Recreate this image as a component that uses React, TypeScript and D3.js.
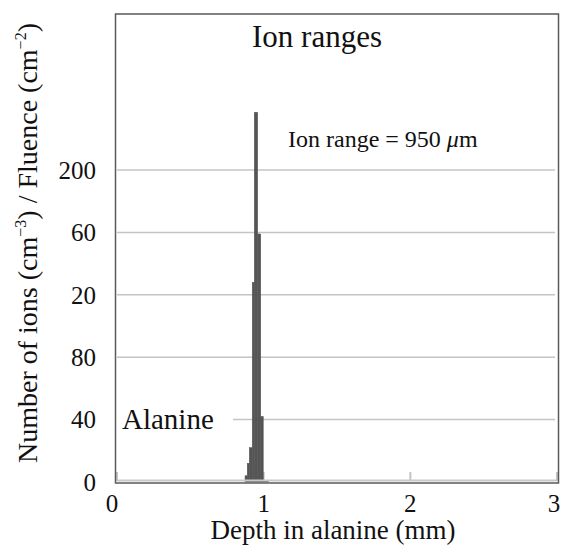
import React from 'react';
import * as d3 from 'd3';

// histogram bins (depth in mm, counts)
const binEdges = [0.873, 0.888, 0.902, 0.922, 0.936, 0.959, 0.98, 0.997, 1.032];
const ionCounts = [4, 12, 22, 128, 237, 159, 42, 1];

const xTicks = [0, 1, 2, 3];
const yTicks = [0, 40, 80, 120, 160, 200];
const yTickLabels = ['0', '40', '80', '20', '60', '200'];

const width = 561;
const height = 546;
const plot = { left: 116, right: 558, top: 14, bottom: 482 };
const font = 'Liberation Serif, DejaVu Serif, serif';

const App = () => {
  const xScale = d3.scaleLinear().domain([0, 3]).range([117, 557]);
  const yScale = d3.scaleLinear().domain([0, 300]).range([plot.bottom, plot.top]);

  const bins = ionCounts.map((c, i) => ({ x0: binEdges[i], x1: binEdges[i + 1], count: c }));

  return (
    <svg
      width={width}
      height={height}
      fontFamily={font}
      style={{ position: 'absolute', top: 0, left: 0, display: 'block' }}
    >
      <rect x={0} y={0} width={width} height={height} fill="#fff" />

      {/* Grid lines */}
      {yTicks.slice(1).map(t => (
        <line key={`g-${t}`} x1={plot.left + 1} x2={plot.right - 3} y1={yScale(t)} y2={yScale(t)} stroke="#c4c4c4" strokeWidth={1.5} />
      ))}

      {/* Label box hides the grid line */}
      <rect x={plot.left + 1} y={yScale(40) - 14} width={116} height={28} fill="#fff" />
      <text x={122} y={429} fontSize={29} fontFamily={font} fill="#111">Alanine</text>

      {/* Inner ticks */}
      {xTicks.map(t => (
        <line key={`t-${t}`} x1={xScale(t)} x2={xScale(t)} y1={plot.bottom - 1} y2={plot.bottom - 10} stroke="#c4c4c4" strokeWidth={2} />
      ))}

      {/* Histogram */}
      {bins.map((b, i) => (
        <rect
          key={`b-${i}`}
          x={xScale(b.x0)}
          y={yScale(b.count)}
          width={xScale(b.x1) - xScale(b.x0)}
          height={yScale(0) - yScale(b.count)}
          fill="#555"
          stroke="#555"
          strokeWidth={0.5}
        />
      ))}

      {/* Axis line and frame */}
      <line x1={plot.left + 1} x2={plot.right - 1} y1={plot.bottom - 1.5} y2={plot.bottom - 1.5} stroke="#c8c8c8" strokeWidth={2} />
      <rect x={plot.left - 0.5} y={plot.top} width={plot.right - plot.left + 1} height={plot.bottom - plot.top + 1} fill="none" stroke="#5a5a5a" strokeWidth={1.5} />

      {/* Tick labels */}
      {yTicks.map((t, i) => (
        <text key={`yl-${t}`} x={96} y={yScale(t)} dy="0.35em" textAnchor="end" fontSize={25} fontFamily={font} fill="#111">
          {yTickLabels[i]}
        </text>
      ))}
      {xTicks.map(t => (
        <text
          key={`xl-${t}`}
          x={t === 0 ? 112 : t === 3 ? 554 : xScale(t)}
          y={512}
          textAnchor="middle"
          fontSize={25}
          fontFamily={font}
          fill="#111"
        >
          {t}
        </text>
      ))}

      {/* Titles */}
      <text x={317} y={47} textAnchor="middle" fontSize={31} fontFamily={font} fill="#111">Ion ranges</text>
      <text x={288} y={147} fontSize={24} fontFamily={font} fill="#111">
        Ion range = 950 <tspan fontStyle="italic">μ</tspan>m
      </text>
      <text x={333} y={539} textAnchor="middle" fontSize={27} fontFamily={font} fill="#111">Depth in alanine (mm)</text>
      <text transform="translate(37, 243) rotate(-90)" textAnchor="middle" fontSize={28} fontFamily={font} fill="#111">
        Number of ions (cm<tspan fontSize={16} dy={-11}>−3</tspan><tspan dy={11}>) / Fluence (cm</tspan>
        <tspan fontSize={16} dy={-11}>−2</tspan><tspan dy={11}>)</tspan>
      </text>
    </svg>
  );
};

export default App;
